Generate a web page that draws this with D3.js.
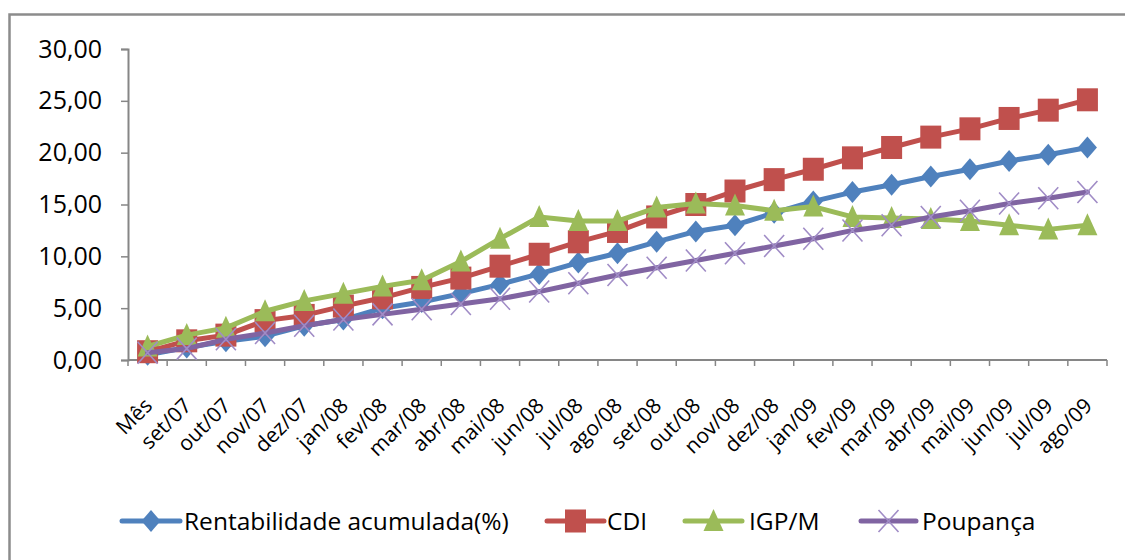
<!DOCTYPE html>
<html>
<head>
<meta charset="utf-8">
<script src="https://cdn.jsdelivr.net/npm/d3@7"></script>
<style>
  html, body { margin: 0; padding: 0; background: #fff; }
  svg { display: block; }
  text { font-family: "Open Sans", "Noto Sans", sans-serif; fill: #000; }
</style>
</head>
<body>
<svg id="chart" width="1125" height="560"></svg>
<script>
// Meses do período
const categories = ["Mês","set/07","out/07","nov/07","dez/07","jan/08","fev/08","mar/08","abr/08",
  "mai/08","jun/08","jul/08","ago/08","set/08","out/08","nov/08","dez/08","jan/09","fev/09",
  "mar/09","abr/09","mai/09","jun/09","jul/09","ago/09"];

// Rentabilidade acumulada (%) de cada série
const rentabilidade = [0.5,1.2,1.8,2.3,3.3,3.9,5.0,5.6,6.4,7.3,8.3,9.4,10.3,11.4,12.4,13.0,14.2,15.3,16.2,16.9,17.7,18.4,19.2,19.8,20.5];
const cdi           = [0.8,1.85,2.4,3.8,4.3,5.2,6.0,7.0,7.9,9.05,10.2,11.4,12.4,13.8,15.0,16.3,17.4,18.4,19.5,20.5,21.5,22.3,23.3,24.1,25.1];
const igpm          = [1.3,2.4,3.1,4.7,5.7,6.4,7.1,7.7,9.5,11.7,13.8,13.4,13.4,14.7,15.1,14.9,14.4,14.8,13.8,13.7,13.6,13.4,13.0,12.6,13.0];
const poupanca      = [0.7,1.1,2.0,2.6,3.3,3.9,4.4,4.9,5.4,5.9,6.6,7.4,8.2,8.9,9.6,10.3,11.0,11.7,12.5,13.0,13.8,14.4,15.1,15.6,16.2];

// Marcas do eixo vertical
const yTicks = [0,5,10,15,20,25,30];

const seriesNames = ["Rentabilidade acumulada(%)","CDI","IGP/M","Poupança"];

const series = [
  { name: seriesNames[0], values: rentabilidade, color: "#4F81BD", marker: "diamond" },
  { name: seriesNames[1], values: cdi,           color: "#C0504D", marker: "square" },
  { name: seriesNames[2], values: igpm,          color: "#9BBB59", marker: "triangle" },
  { name: seriesNames[3], values: poupanca,      color: "#8064A2", marker: "cross", markerColor: "#A08CC6" }
];

const svg = d3.select("#chart");
const axisColor = "#868686";

// moldura do gráfico
svg.append("rect")
  .attr("x", 9.5).attr("y", 14.5)
  .attr("width", 1140).attr("height", 600)
  .attr("fill", "none").attr("stroke", "#8c8c8c").attr("stroke-width", 2.5);

const plot = { left: 128, right: 1107, top: 49, bottom: 360 };

const xBand = d3.scaleBand().domain(categories).range([plot.left, plot.right]);
const x = d3.scalePoint().domain(categories).range([plot.left, plot.right]).padding(0.5);
const y = d3.scaleLinear().domain([0, 30]).range([plot.bottom, plot.top]);

const ptBR = d3.formatLocale({ decimal: ",", thousands: ".", grouping: [3], currency: ["R$", ""] });
const fmt = ptBR.format(".2f");

// Eixo Y
const yAxis = svg.append("g").attr("transform", `translate(${plot.left},0)`)
  .call(d3.axisLeft(y).tickValues(yTicks).tickFormat(fmt).tickSize(7).tickPadding(19));
yAxis.select(".domain").attr("stroke", axisColor).attr("stroke-width", 2);
yAxis.selectAll(".tick line").attr("stroke", axisColor).attr("stroke-width", 1.5);
yAxis.selectAll(".tick text")
  .style("font-family", "'Open Sans', sans-serif").style("font-size", "25px").attr("fill", "#000");

// Eixo X
const xAxisG = svg.append("g").attr("transform", `translate(0,${plot.bottom})`);
xAxisG.append("line")
  .attr("x1", plot.left).attr("x2", plot.right)
  .attr("stroke", axisColor).attr("stroke-width", 2);
const bounds = categories.map(c => xBand(c)).concat([plot.right]);
xAxisG.selectAll("line.tk").data(bounds).join("line").attr("class", "tk")
  .attr("x1", d => d).attr("x2", d => d).attr("y1", 0).attr("y2", 6)
  .attr("stroke", axisColor).attr("stroke-width", 1.5);
xAxisG.selectAll("text").data(categories).join("text")
  .attr("transform", d => `translate(${x(d) + 6},${47}) rotate(-45)`)
  .attr("text-anchor", "end")
  .style("font-size", "21px")
  .text(d => d);

// Desenho dos marcadores
function drawMarker(g, type, cx, cy, color) {
  if (type === "diamond") {
    g.append("path")
      .attr("d", `M${cx},${cy - 11}L${cx + 9.5},${cy}L${cx},${cy + 11}L${cx - 9.5},${cy}Z`)
      .attr("fill", color);
  } else if (type === "square") {
    g.append("rect").attr("x", cx - 10.5).attr("y", cy - 11.5)
      .attr("width", 21).attr("height", 23).attr("fill", color);
  } else if (type === "triangle") {
    g.append("path")
      .attr("d", `M${cx},${cy - 12}L${cx + 10},${cy + 10}L${cx - 10},${cy + 10}Z`)
      .attr("fill", color);
  } else if (type === "cross") {
    g.append("path")
      .attr("d", `M${cx - 10},${cy - 11}L${cx + 10},${cy + 11}M${cx + 10},${cy - 11}L${cx - 10},${cy + 11}`)
      .attr("stroke", color).attr("stroke-width", 1.6).attr("fill", "none");
  }
}

const line = d3.line().x((d, i) => x(categories[i])).y(d => y(d));

series.forEach(s => {
  const g = svg.append("g");
  g.append("path").datum(s.values)
    .attr("d", line)
    .attr("fill", "none").attr("stroke", s.color)
    .attr("stroke-width", 5).attr("stroke-linejoin", "round").attr("stroke-linecap", "round");
  s.values.forEach((v, i) => drawMarker(g, s.marker, x(categories[i]), y(v), s.markerColor || s.color));
});

// Legenda
const legendY = 521;
const legendItems = [
  { x1: 122, x2: 180, tx: 184 },
  { x1: 547, x2: 604, tx: 607 },
  { x1: 685, x2: 742, tx: 749 },
  { x1: 861, x2: 916, tx: 922 }
];
series.forEach((s, i) => {
  const L = legendItems[i];
  const g = svg.append("g");
  g.append("line").attr("x1", L.x1).attr("x2", L.x2).attr("y1", legendY).attr("y2", legendY)
    .attr("stroke", s.color).attr("stroke-width", 5).attr("stroke-linecap", "round");
  drawMarker(g, s.marker, (L.x1 + L.x2) / 2, legendY, s.markerColor || s.color);
  g.append("text").attr("x", L.tx).attr("y", legendY + 9)
    .style("font-size", "24.5px").text(s.name);
});
</script>
</body>
</html>
